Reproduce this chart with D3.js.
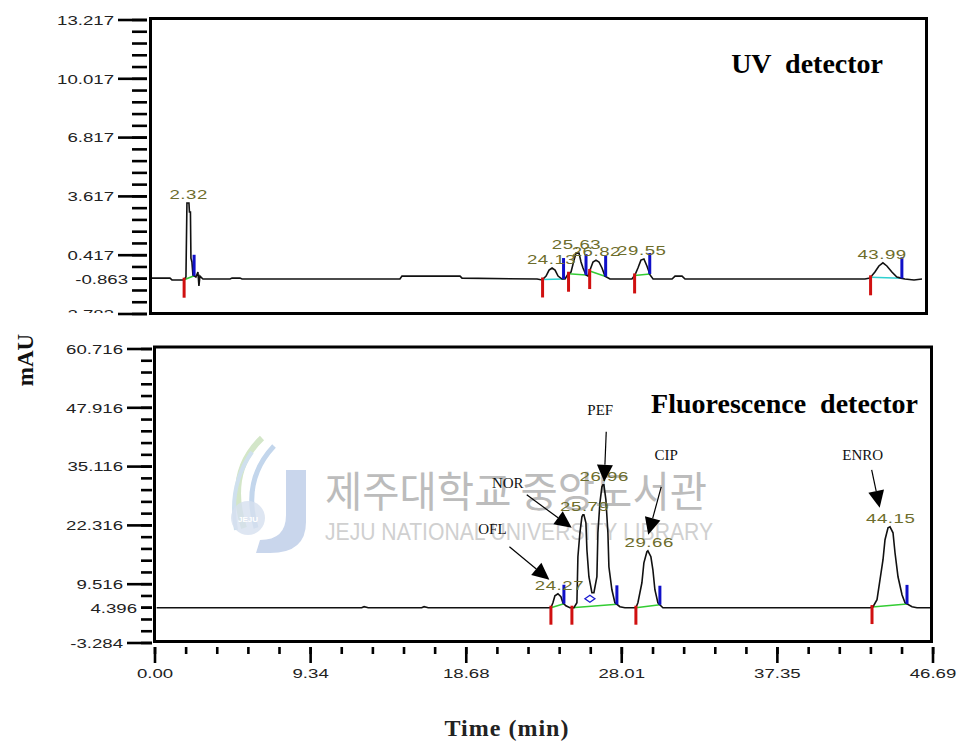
<!DOCTYPE html>
<html><head><meta charset="utf-8">
<script src="https://cdn.jsdelivr.net/npm/d3@7"></script>
<style>
html,body{margin:0;padding:0;background:#fff;}
svg{display:block;}
</style></head>
<body>
<svg id="chart" width="959" height="742"></svg>
<script>
// ---------------- DATA ----------------
// UV detector trace (time in min, signal in mAU)
const uvTime = [0.12,1.20,1.32,2.04,2.16,2.22,2.34,2.37,2.43,2.46,2.52,2.58,2.76,2.88,2.94,3.00,3.18,4.81,4.93,5.41,5.53,15.02,15.14,18.63,18.75,23.26,23.56,23.80,23.98,24.16,24.34,24.52,24.76,24.94,25.12,25.30,25.48,25.60,25.78,25.90,26.02,26.20,26.32,26.44,26.62,26.80,26.98,27.16,27.34,27.64,28.96,29.14,29.32,29.50,29.68,29.86,30.05,30.23,31.37,31.55,31.97,32.15,42.96,43.26,43.56,43.80,44.04,44.28,44.58,44.88,45.12,45.36,45.91,46.39];
const uvSignal = [-0.83,-0.83,-0.93,-0.93,-0.77,3.26,3.26,2.77,2.77,0.26,0.05,-0.66,-0.77,-0.50,-1.26,-0.72,-0.88,-0.88,-0.83,-0.83,-0.88,-0.88,-0.72,-0.72,-0.83,-0.88,-0.93,-0.72,-0.39,-0.28,-0.39,-0.72,-0.88,-0.88,-0.61,-0.50,0.15,0.53,0.53,0.05,-0.28,-0.66,-0.72,-0.39,0.05,0.15,0.05,-0.28,-0.72,-0.88,-0.88,-0.66,-0.28,0.15,0.21,-0.17,-0.66,-0.88,-0.88,-0.72,-0.72,-0.88,-0.88,-0.83,-0.50,-0.17,0.00,-0.17,-0.50,-0.77,-0.83,-0.88,-0.93,-0.88];
const uvPeakTimes   = [2.32, 24.13, 25.63, 26.82, 29.55, 43.99];
const uvPeakHeights = [3.26, -0.28, 0.53, 0.15, 0.21, 0.00];
const uvPeakStart   = [2.05, 23.59, 25.15, 26.42, 29.12, 43.30];
const uvPeakEnd     = [2.65, 24.85, 26.20, 27.38, 30.03, 45.18];
const uvBaseType    = ["G","C","G","G","G","C"];

// Fluorescence detector trace
const flTime = [0.10,12.40,12.55,12.80,16.00,16.15,16.40,23.50,23.76,23.88,24.00,24.18,24.36,24.48,24.66,24.90,25.14,25.32,25.38,25.50,25.62,25.68,25.74,25.86,25.92,26.04,26.22,26.34,26.52,26.58,26.70,26.82,26.88,26.94,27.06,27.18,27.24,27.42,27.60,27.90,28.20,28.86,28.98,29.22,29.34,29.52,29.58,29.76,29.88,30.00,30.18,30.48,42.91,43.09,43.33,43.51,43.69,43.81,43.99,44.11,44.29,44.41,44.59,44.83,45.01,45.43,45.73,46.51];
const flSignal = [4.40,4.40,4.62,4.40,4.40,4.62,4.40,4.40,4.40,5.48,7.01,7.44,6.79,5.48,4.83,4.40,4.40,5.48,15.49,20.71,24.19,24.62,24.62,22.88,17.01,11.14,7.66,7.66,11.14,20.71,27.23,30.71,31.15,31.15,27.89,20.71,13.31,8.31,5.48,4.61,4.40,4.40,5.48,9.83,14.18,16.58,16.79,15.49,12.66,8.31,5.48,4.40,4.40,4.61,6.14,10.49,14.84,19.19,21.80,22.01,20.71,16.36,11.14,7.22,5.48,4.61,4.40,4.40];
const flPeakTimes   = [24.27, 25.79, 26.96, 29.66, 44.15];
const flPeakHeights = [7.44, 24.62, 31.15, 16.79, 22.01];
const flPeakStart   = [23.76, 25.02, 28.86, 43.03];
const flPeakEnd     = [24.54, 27.72, 30.30, 45.13];
const flValleyTime  = [26.10];
const flValleyValue = [6.35];
const compoundNames = ["OFL", "NOR", "PEF", "CIP", "ENRO"];

// Axis tick labels
const uvTickLabels   = ["13.217","10.017","6.817","3.617","0.417","-0.863","-2.783"];
const flTickLabels   = ["60.716","47.916","35.116","22.316","9.516","4.396","-3.284"];
const timeTickLabels = ["0.00","9.34","18.68","28.01","37.35","46.69"];

const panelTitles = ["UV  detector", "Fluorescence  detector"];
const yTitle = "mAU";
const xTitle = "Time (min)";
const watermarkKo = "제주대학교 중앙도서관";
const watermarkEn = "JEJU NATIONAL UNIVERSITY LIBRARY";

// ---------------- DRAW ----------------
const svg = d3.select("#chart");
const SANS = "'Liberation Sans', Arial, sans-serif";
const SERIF = "'Liberation Serif', 'Times New Roman', serif";
const OLIVE = "#6d6d2c";
const SX = 1.38;

function stretchText(parent, x, y, str, o) {
  const g = parent.append("g").attr("transform", `translate(${x},${y})`);
  return g.append("text")
    .attr("transform", `scale(${o.sx || SX},1)`)
    .attr("text-anchor", o.anchor || "middle")
    .attr("dy", o.dy || 0)
    .attr("font-family", o.family || SANS)
    .attr("font-size", o.size || 14)
    .attr("letter-spacing", o.ls || 0)
    .attr("fill", o.fill || "#111")
    .text(str);
}

function interp(times, vals, t) {
  const i = d3.bisectLeft(times, t);
  if (i <= 0) return vals[0];
  if (i >= times.length) return vals[vals.length - 1];
  const t0 = times[i-1], t1 = times[i];
  const f = (t - t0) / (t1 - t0);
  return vals[i-1] + f * (vals[i] - vals[i-1]);
}

// scales
const tMax = +timeTickLabels[timeTickLabels.length-1];
const xUV = d3.scaleLinear().domain([0, tMax]).range([150, 927]);
const yUV = d3.scaleLinear().domain([+uvTickLabels[6], +uvTickLabels[0]]).range([314, 20]);
const xFL = d3.scaleLinear().domain([0, tMax]).range([155, 933]);
const yFL = d3.scaleLinear().domain([+flTickLabels[6], +flTickLabels[0]]).range([643, 349]);

// ---- watermark ----
const wm = svg.append("g").attr("class", "watermark");
wm.append("path").attr("d", "M286,470 L306,470 L306,522 Q306,553 270,553 L256,553 L260,540 Q286,540 286,515 Z").attr("fill", "#c9d6ec");
wm.append("path").attr("d", "M262,438 Q226,472 244,528").attr("fill", "none").attr("stroke", "#d3e6c8").attr("stroke-width", 6);
wm.append("path").attr("d", "M274,446 Q242,480 256,528").attr("fill", "none").attr("stroke", "#c3d6ec").attr("stroke-width", 5);
wm.append("path").attr("d", "M252,452 Q228,486 236,530").attr("fill", "none").attr("stroke", "#cfe0ee").attr("stroke-width", 4);
wm.append("circle").attr("cx", 248).attr("cy", 518).attr("r", 17).attr("fill", "#d6e0ef").attr("opacity", 0.8);
wm.append("text").attr("x", 248).attr("y", 522).attr("text-anchor", "middle").attr("font-family", SANS).attr("font-size", 8).attr("font-weight", "bold").attr("fill", "#ffffff").text("JEJU");
wm.append("text").attr("x", 325).attr("y", 507).attr("font-family", "'Noto Sans CJK KR', sans-serif").attr("font-size", 42)
  .attr("textLength", 382).attr("lengthAdjust", "spacingAndGlyphs").attr("fill", "#bcbcbc").text(watermarkKo);
wm.append("text").attr("x", 325).attr("y", 540).attr("font-family", SANS).attr("font-size", 23)
  .attr("textLength", 388).attr("lengthAdjust", "spacingAndGlyphs").attr("fill", "#d0d0d0").text(watermarkEn);

// ---- y axis helper ----
function drawYAxis(labels, yScale, xFrame, majorLen, minorLen, nMinor, clipBottom) {
  const g = svg.append("g");
  const top = +labels[0], bottom = +labels[labels.length-1];
  const majorStep = +labels[0] - +labels[1];
  const minorStep = majorStep / (nMinor + 1);
  const tickEnd = xFrame - 3;
  const minors = d3.range(0, Math.round((top - bottom) / minorStep) + 1).map(i => top - i * minorStep);
  g.selectAll("line.minor").data(minors).join("line")
    .attr("x1", tickEnd - minorLen).attr("x2", tickEnd)
    .attr("y1", d => yScale(d)).attr("y2", d => yScale(d))
    .attr("stroke", "#000").attr("stroke-width", 2.6);
  const isMajor = v => Math.abs((top - v) / majorStep - Math.round((top - v) / majorStep)) < 0.01;
  const lab = clipBottom ? g.append("g").attr("clip-path", "url(#" + clipBottom + ")") : g;
  labels.forEach(l => {
    const v = +l, y = yScale(v);
    const len = isMajor(v) ? majorLen : minorLen;
    g.append("line").attr("x1", tickEnd - len).attr("x2", tickEnd).attr("y1", y).attr("y2", y)
      .attr("stroke", "#000").attr("stroke-width", 2.6);
    stretchText(lab, tickEnd - len - 4, y, l, {anchor: "end", dy: "0.36em", size: 13.5, fill: "#222"});
  });
}

// clip for top-panel axis labels
svg.append("defs").append("clipPath").attr("id", "uvclip")
  .append("rect").attr("x", 0).attr("y", 0).attr("width", 150).attr("height", 313);

// ---- Top panel ----
drawYAxis(uvTickLabels, yUV, 150, 29, 15, 4, "uvclip");

function drawBaselines(g, xS, yS, times, vals, starts, ends, types) {
  starts.forEach((s, i) => {
    const e = ends[i];
    g.append("line")
      .attr("x1", xS(s)).attr("y1", yS(interp(times, vals, s)))
      .attr("x2", xS(e)).attr("y2", yS(interp(times, vals, e)))
      .attr("stroke", types && types[i] === "C" ? "#2fd0d0" : "#33cc33").attr("stroke-width", 1.5);
  });
}
function drawMarkers(g, xS, yS, times, vals, starts, ends, redLen, blueLen) {
  starts.forEach(s => {
    const y = yS(interp(times, vals, s));
    g.append("line").attr("x1", xS(s)).attr("x2", xS(s)).attr("y1", y - 2).attr("y2", y + redLen)
      .attr("stroke", "#d01010").attr("stroke-width", 3);
  });
  ends.forEach(e => {
    const y = yS(interp(times, vals, e));
    g.append("line").attr("x1", xS(e)).attr("x2", xS(e)).attr("y1", y - blueLen).attr("y2", y)
      .attr("stroke", "#1010c8").attr("stroke-width", 3);
  });
}

const gUV = svg.append("g");
drawBaselines(gUV, xUV, yUV, uvTime, uvSignal, uvPeakStart, uvPeakEnd, uvBaseType);
const line = (xS, yS) => d3.line().x(d => xS(d[0])).y(d => yS(d[1]));
gUV.append("path").datum(uvTime.map((t, i) => [t, uvSignal[i]]))
  .attr("d", line(xUV, yUV)).attr("fill", "none").attr("stroke", "#111").attr("stroke-width", 1.6);
drawMarkers(gUV, xUV, yUV, uvTime, uvSignal, uvPeakStart, uvPeakEnd, 18, 21);
uvPeakTimes.forEach((t, i) => {
  stretchText(gUV, xUV(t), yUV(uvPeakHeights[i]) - 4, t.toFixed(2), {size: 13.5, fill: OLIVE, ls: 0.4});
});
svg.append("rect").attr("x", 150.5).attr("y", 18.5).attr("width", 776).attr("height", 295)
  .attr("fill", "none").attr("stroke", "#000").attr("stroke-width", 3);
svg.append("text").attr("x", 883).attr("y", 73).attr("text-anchor", "end")
  .attr("font-family", SERIF).attr("font-weight", "bold").attr("font-size", 28)
  .style("white-space", "pre").attr("xml:space", "preserve").text(panelTitles[0]);

// ---- Bottom panel ----
drawYAxis(flTickLabels, yFL, 155, 25, 11, 4, null);

const gFL = svg.append("g");
drawBaselines(gFL, xFL, yFL, flTime, flSignal, flPeakStart, flPeakEnd, null);
gFL.append("path").datum(flTime.map((t, i) => [t, flSignal[i]]))
  .attr("d", line(xFL, yFL)).attr("fill", "none").attr("stroke", "#111").attr("stroke-width", 1.6);
drawMarkers(gFL, xFL, yFL, flTime, flSignal, flPeakStart, flPeakEnd, 17, 19);
flValleyTime.forEach((t, i) => {
  const cx = xFL(t), cy = yFL(flValleyValue[i]);
  gFL.append("path").attr("d", `M${cx-5},${cy} L${cx},${cy-3.5} L${cx+5},${cy} L${cx},${cy+3.5} Z`)
    .attr("fill", "none").attr("stroke", "#1a1ad0").attr("stroke-width", 1.3);
});
flPeakTimes.forEach((t, i) => {
  stretchText(gFL, xFL(t), yFL(flPeakHeights[i]) - 4, t.toFixed(2), {size: 13.5, fill: OLIVE, ls: 0.4});
});

// annotation arrows (layout offsets relative to labelled peak)
const annotLayout = [
  {tip: [-10, -14], tail: [-50, -47], text: [-67, -60]},
  {tip: [-13, 13],  tail: [-58, -20], text: [-77, -27]},
  {tip: [0, -3],    tail: [2, -53],   text: [-4, -70]},
  {tip: [-1, -16],  tail: [12, -64],  text: [17, -91]},
  {tip: [-11, -19], tail: [-19, -57], text: [-28, -67]}
];
const gA = svg.append("g");
compoundNames.forEach((name, i) => {
  const px = xFL(flPeakTimes[i]), py = yFL(flPeakHeights[i]);
  const L = annotLayout[i];
  const T = [px + L.tip[0], py + L.tip[1]], S = [px + L.tail[0], py + L.tail[1]];
  const dx = T[0] - S[0], dy = T[1] - S[1], d = Math.hypot(dx, dy);
  const ux = dx / d, uy = dy / d, nx = -uy, ny = ux;
  const hl = 17, hw = 8;
  const B = [T[0] - ux * hl, T[1] - uy * hl];
  gA.append("line").attr("x1", S[0]).attr("y1", S[1]).attr("x2", B[0]).attr("y2", B[1])
    .attr("stroke", "#000").attr("stroke-width", 1.2);
  gA.append("path").attr("d", `M${T[0]},${T[1]} L${B[0]+nx*hw},${B[1]+ny*hw} L${B[0]-nx*hw},${B[1]-ny*hw} Z`)
    .attr("fill", "#000");
  gA.append("text").attr("x", px + L.text[0]).attr("y", py + L.text[1]).attr("text-anchor", "middle")
    .attr("font-family", SERIF).attr("font-size", 15).attr("fill", "#111").text(name);
});

svg.append("rect").attr("x", 154.5).attr("y", 347).attr("width", 777).attr("height", 294.5)
  .attr("fill", "none").attr("stroke", "#000").attr("stroke-width", 3);
svg.append("text").attr("x", 918).attr("y", 413).attr("text-anchor", "end")
  .attr("font-family", SERIF).attr("font-weight", "bold").attr("font-size", 28)
  .attr("xml:space", "preserve").style("white-space", "pre").text(panelTitles[1]);

// x axis (bottom panel)
const gx = svg.append("g");
const majorT = timeTickLabels.map(Number);
const minorStepT = (majorT[1] - majorT[0]) / 5;
const minorsT = d3.range(0, 26).map(i => i * minorStepT);
gx.selectAll("line.mt").data(minorsT).join("line")
  .attr("x1", d => xFL(d)).attr("x2", d => xFL(d)).attr("y1", 647).attr("y2", 654)
  .attr("stroke", "#000").attr("stroke-width", 2.6);
timeTickLabels.forEach(l => {
  const x = xFL(+l);
  gx.append("line").attr("x1", x).attr("x2", x).attr("y1", 647).attr("y2", 663)
    .attr("stroke", "#000").attr("stroke-width", 2.6);
  stretchText(gx, x, 678, l, {size: 13.5, fill: "#222"});
});

// axis titles
svg.append("text").attr("transform", "translate(33,360) rotate(-90)").attr("text-anchor", "middle")
  .attr("font-family", SERIF).attr("font-weight", "bold").attr("font-size", 23).attr("fill", "#111").text(yTitle);
svg.append("text").attr("x", 507).attr("y", 736).attr("text-anchor", "middle")
  .attr("font-family", SERIF).attr("font-weight", "bold").attr("font-size", 24).attr("letter-spacing", 1)
  .attr("fill", "#222").text(xTitle);
</script>
</body></html>
